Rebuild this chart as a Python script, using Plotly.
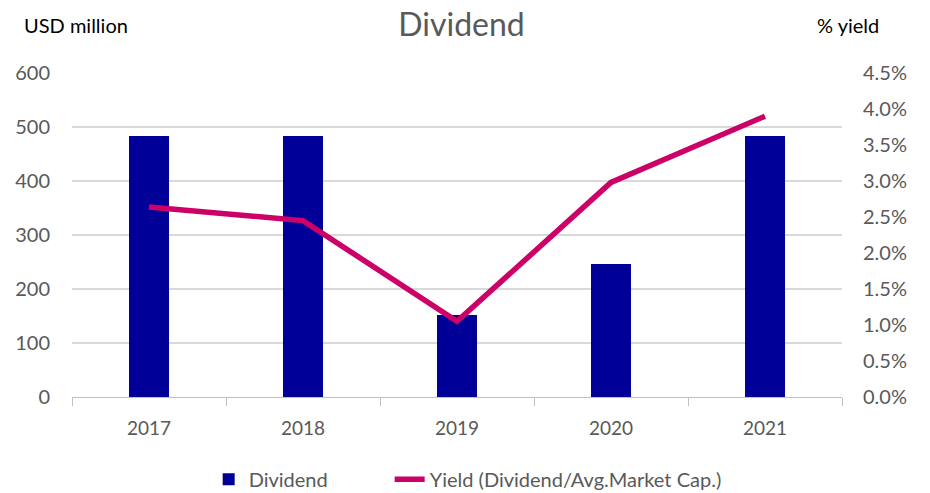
import plotly.graph_objects as go

years = ["2017", "2018", "2019", "2020", "2021"]
dividend = [484, 484, 151, 246, 484]
yield_pct = [2.64, 2.45, 1.05, 2.98, 3.90]

FONT = "Lato"
GRAY = "#595959"
FS = 19

fig = go.Figure()
fig.add_trace(go.Bar(
    x=years, y=dividend, name="Dividend",
    marker=dict(color="#000099", line=dict(width=0)),
    width=0.266, yaxis="y", legendwidth=136,
))
fig.add_trace(go.Scatter(
    x=years, y=yield_pct, name="Yield (Dividend/Avg.Market Cap.)",
    mode="lines", line=dict(color="#CC0066", width=5.5),
    yaxis="y2",
))

# page has an 8px body margin, so the figure is 922x485
fig.update_layout(
    width=922, height=485,
    margin=dict(l=64, r=88, t=65, b=96, autoexpand=False),
    paper_bgcolor="white", plot_bgcolor="white",
    font=dict(family=FONT, size=FS, color=GRAY),
    title=dict(text="Dividend", x=0.4919, xanchor="center", y=0.966, yanchor="middle",
               font=dict(family=FONT, size=32, color=GRAY)),
    showlegend=True,
    legend=dict(orientation="h", x=0.1775, xanchor="left", y=-0.254, yanchor="middle",
                font=dict(family=FONT, size=20, color=GRAY), traceorder="normal"),
    xaxis=dict(
        type="category", showgrid=False, showline=True, linecolor="#bfbfbf", linewidth=1,
        ticks="outside", tickson="boundaries", ticklen=8, tickcolor="#bfbfbf",
        tickfont=dict(family=FONT, size=FS, color=GRAY), automargin=False,
        ticklabelstandoff=14,
    ),
    yaxis=dict(
        range=[0, 600], dtick=100, showgrid=True, gridcolor="#d9d9d9", gridwidth=1.5,
        zeroline=False, ticks="", tickfont=dict(family=FONT, size=20, color=GRAY),
        ticklabelstandoff=21, automargin=False,
    ),
    yaxis2=dict(
        range=[0, 4.5], dtick=0.5, overlaying="y", side="right", showgrid=False,
        zeroline=False, tickformat=".1f", ticksuffix="%",
        tickfont=dict(family=FONT, size=20, color=GRAY), ticklabelstandoff=20,
        automargin=False,
    ),
    bargap=0,
)

fig.add_annotation(text="USD million", xref="paper", yref="paper", x=-0.0649, y=1.148,
                   xanchor="left", yanchor="middle", showarrow=False,
                   font=dict(family=FONT, size=20, color="black"))
fig.add_annotation(text="% yield", xref="paper", yref="paper", x=1.0078, y=1.148,
                   xanchor="center", yanchor="middle", showarrow=False,
                   font=dict(family=FONT, size=20, color="black"))

fig.write_html("out.html")
